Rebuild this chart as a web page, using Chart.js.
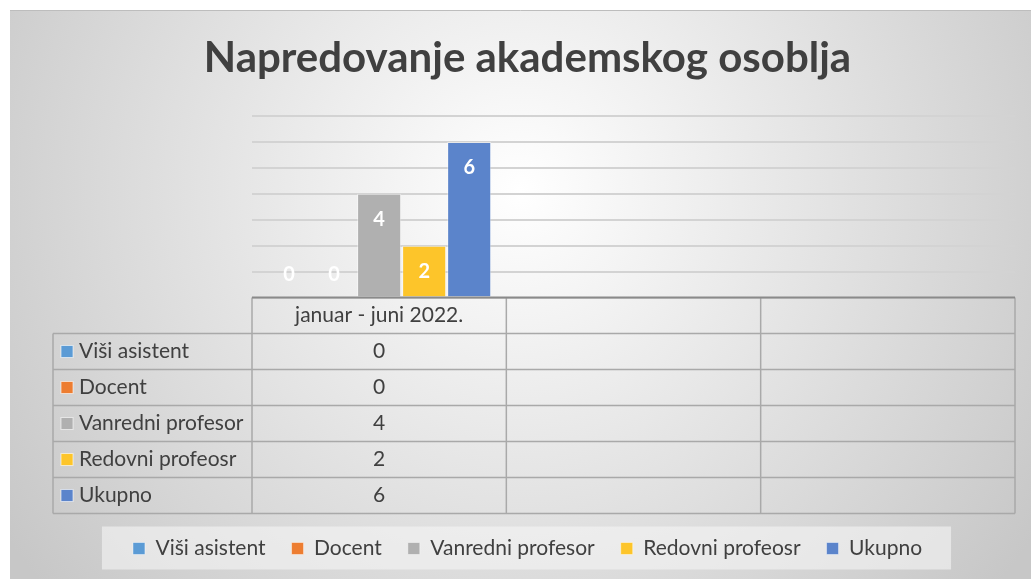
<!DOCTYPE html>
<html>
<head>
<meta charset="utf-8">
<script src="https://cdn.jsdelivr.net/npm/chart.js@4/dist/chart.umd.min.js"></script>
<style>
  html, body { margin: 0; padding: 0; background: #fff; }
  #wrap { width: 1031px; height: 579px; }
</style>
</head>
<body>
<div id="wrap"><canvas id="chart"></canvas></div>
<script>
// data
const categories = ['januar - juni 2022.', '', ''];
const seriesNames = ['Viši asistent', 'Docent', 'Vanredni profesor', 'Redovni profeosr', 'Ukupno'];
const visiAsistent = [0, null, null];
const docent = [0, null, null];
const vanredniProfesor = [4, null, null];
const redovniProfeosr = [2, null, null];
const ukupno = [6, null, null];
const yTicks = [0, 1, 2, 3, 4, 5, 6, 7];

const colors = ['#5b9bd5', '#ed7d31', '#b0b0b0', '#fdc52a', '#5b84cb'];
const FONT = 'Lato, "Open Sans", sans-serif';
const TEXT = '#404040';
const TXT_SIZE = 21;
const LEG_PAD = 26;

const seriesValues = [visiAsistent, docent, vanredniProfesor, redovniProfeosr, ukupno];

// background: white margin + radial gray gradient + legend box
const bgPlugin = {
    id: 'bg',
    beforeDraw(chart) {
        const ctx = chart.ctx;
        ctx.save();
        ctx.fillStyle = '#ffffff';
        ctx.fillRect(0, 0, chart.width, chart.height);
        const g = ctx.createRadialGradient(520, 190, 0, 520, 190, 620);
        g.addColorStop(0, '#ffffff');
        g.addColorStop(1, '#c7c7c7');
        ctx.fillStyle = g;
        ctx.fillRect(10, 10, chart.width - 10, chart.height - 10);
        ctx.strokeStyle = '#bdbdbd';
        ctx.lineWidth = 1;
        ctx.beginPath();
        ctx.moveTo(10, 10.5);
        ctx.lineTo(chart.width, 10.5);
        ctx.stroke();

        // legend panel around legend items
        const lg = chart.legend;
        if (lg && lg.legendHitBoxes && lg.legendHitBoxes.length) {
            const boxes = lg.legendHitBoxes;
            const l = Math.min(...boxes.map(b => b.left)) - 31;
            const r = Math.max(...boxes.map(b => b.left + b.width)) + 29;
            const cy = boxes[0].top + boxes[0].height / 2;
            ctx.fillStyle = 'rgba(245,245,245,0.6)';
            ctx.fillRect(l, cy - 22, r - l, 43);
        }
        ctx.restore();
    }
};

// values inside bar ends
const labelPlugin = {
    id: 'barLabels',
    afterDatasetsDraw(chart) {
        const ctx = chart.ctx;
        ctx.save();
        ctx.fillStyle = '#ffffff';
        ctx.font = 'bold 20px ' + FONT;
        ctx.textAlign = 'center';
        ctx.textBaseline = 'middle';
        chart.data.datasets.forEach((ds, i) => {
            const meta = chart.getDatasetMeta(i);
            meta.data.forEach((bar, j) => {
                const v = ds.data[j];
                if (v === null || v === undefined) return;
                const y = Math.min(bar.y + 26, bar.base - 23);
                ctx.fillText(String(v), bar.x, y);
            });
        });
        ctx.restore();
    }
};

// data table under the plot
const tablePlugin = {
    id: 'dataTable',
    afterDraw(chart) {
        const ctx = chart.ctx;
        const xs = chart.scales.x;
        const area = chart.chartArea;
        const top = area.bottom;
        const headH = 36, rowH = 36;
        const labelLeft = 53;
        const n = categories.length;
        const edges = [area.left];
        for (let i = 0; i < n - 1; i++) {
            edges.push((xs.getPixelForValue(i) + xs.getPixelForValue(i + 1)) / 2);
        }
        edges.push(area.right);
        const bottom = top + headH + rowH * seriesNames.length;

        ctx.save();
        ctx.strokeStyle = '#a9a9a9';
        ctx.lineWidth = 1.5;
        ctx.beginPath();
        edges.forEach(x => { ctx.moveTo(x, top); ctx.lineTo(x, bottom); });
        ctx.moveTo(labelLeft, top + headH); ctx.lineTo(labelLeft, bottom);
        for (let r = 0; r <= seriesNames.length; r++) {
            const y = top + headH + r * rowH;
            ctx.moveTo(labelLeft, y); ctx.lineTo(area.right, y);
        }
        ctx.stroke();

        // axis line on top of the table
        ctx.strokeStyle = '#8a8a8a';
        ctx.lineWidth = 2;
        ctx.beginPath();
        ctx.moveTo(area.left, top); ctx.lineTo(area.right, top);
        ctx.stroke();

        ctx.fillStyle = TEXT;
        ctx.font = TXT_SIZE + 'px ' + FONT;
        ctx.textBaseline = 'middle';
        ctx.textAlign = 'center';
        categories.forEach((c, i) => {
            ctx.fillText(c, (edges[i] + edges[i + 1]) / 2, top + headH / 2);
        });
        seriesNames.forEach((name, r) => {
            const cy = top + headH + r * rowH + rowH / 2;
            ctx.fillStyle = colors[r];
            ctx.fillRect(61, cy - 6, 12, 12);
            ctx.strokeStyle = 'rgba(255,255,255,0.6)';
            ctx.lineWidth = 1;
            ctx.strokeRect(61, cy - 6, 12, 12);
            ctx.fillStyle = TEXT;
            ctx.textAlign = 'left';
            ctx.fillText(name, 79, cy);
            ctx.textAlign = 'center';
            seriesValues[r].forEach((v, i) => {
                if (v === null || v === undefined) return;
                ctx.fillText(String(v), (edges[i] + edges[i + 1]) / 2, cy);
            });
        });
        ctx.restore();
    }
};

const ctx = document.getElementById('chart').getContext('2d');
new Chart(ctx, {
    type: 'bar',
    data: {
        labels: categories,
        datasets: seriesNames.map((name, i) => ({
            label: name,
            data: seriesValues[i],
            backgroundColor: colors[i],
            borderColor: 'rgba(255,255,255,0.45)',
            borderWidth: 1,
            barPercentage: 0.98,
            categoryPercentage: 0.885
        }))
    },
    options: {
        responsive: true,
        maintainAspectRatio: false,
        animation: false,
        layout: { padding: { top: 33, left: 40, right: 16, bottom: 10 } },
        scales: {
            x: {
                grid: { display: false, drawTicks: false },
                border: { display: false },
                ticks: { display: false },
                // room for the data table; legend text sits at top + LEG_PAD
                afterFit: s => { s.height = 547 - TXT_SIZE / 2 - LEG_PAD - 296; }
            },
            y: {
                min: 0,
                max: yTicks[yTicks.length - 1],
                afterBuildTicks: s => { s.ticks = yTicks.map(v => ({ value: v })); },
                grid: { color: '#d3d3d3', lineWidth: 2, drawTicks: false },
                border: { display: false },
                ticks: { display: false },
                afterFit: s => { s.width = 212; }
            }
        },
        plugins: {
            title: {
                display: true,
                text: 'Napredovanje akademskog osoblja',
                color: TEXT,
                font: { family: FONT, size: 42, weight: 'bold', lineHeight: 1.2 },
                padding: { top: 0, bottom: 32.6 }
            },
            legend: {
                position: 'bottom',
                labels: {
                    color: TEXT,
                    font: { family: FONT, size: TXT_SIZE },
                    boxWidth: 12,
                    boxHeight: 12,
                    padding: LEG_PAD
                }
            },
            tooltip: { enabled: false }
        }
    },
    plugins: [bgPlugin, labelPlugin, tablePlugin]
});
</script>
</body>
</html>
